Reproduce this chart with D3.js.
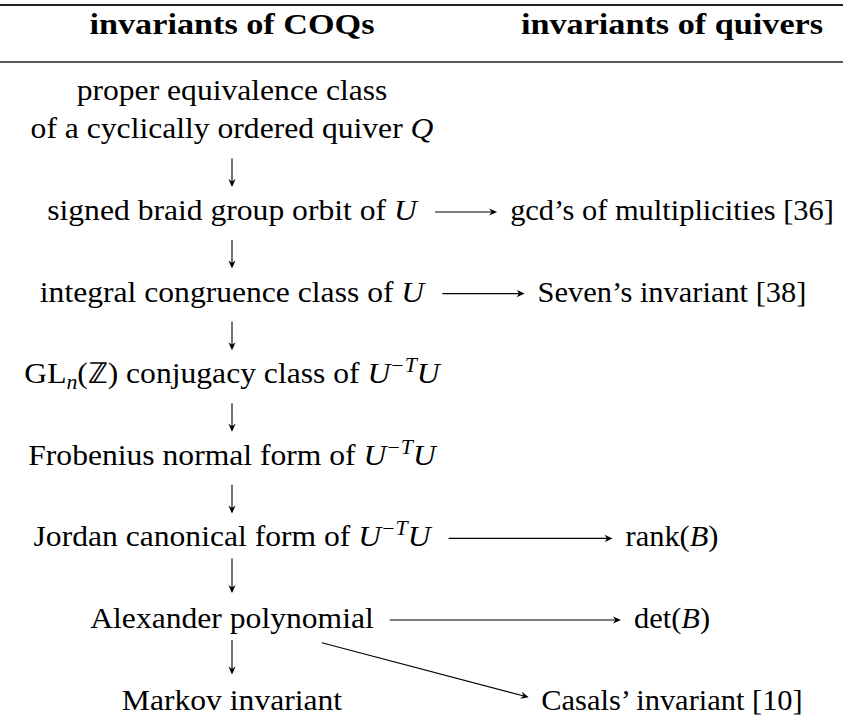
<!DOCTYPE html>
<html>
<head>
<meta charset="utf-8">
<script src="https://cdn.jsdelivr.net/npm/d3@7"></script>
<style>
  body { margin: 0; background: #fff; }
  text { font-family: "Liberation Serif", "Times New Roman", serif; fill: #000; }
</style>
</head>
<body>
<div id="chart"></div>
<script>
// Labels of the two columns ($...$ is math, | breaks a line)
var headers = ["invariants of COQs", "invariants of quivers"];
var coqLabels = [
  "proper equivalence class|of a cyclically ordered quiver $Q$",
  "signed braid group orbit of $U$",
  "integral congruence class of $U$",
  "GL$_n$(ℤ) conjugacy class of $U^{−T}U$",
  "Frobenius normal form of $U^{−T}U$",
  "Jordan canonical form of $U^{−T}U$",
  "Alexander polynomial",
  "Markov invariant"
];
var quiverLabels = ["", "gcd’s of multiplicities [36]", "Seven’s invariant [38]", "", "",
  "rank($B$)", "det($B$)", "Casals’ invariant [10]"];
// arrows: row -> same row in right column, and slanted ones [from row, to row]
var acrossRows = [1, 2, 5, 6];
var slantRows = [[6, 7]];

var svgWidth = 843;
var svgHeight = 724;
var fontSize = 29;
var stretch = {coq: 1.09, quiver: 1.05};

var svg = d3.select("#chart")
  .append("svg")
  .attr("width", svgWidth)
  .attr("height", svgHeight);

var x = d3.scalePoint().domain(["coq", "quiver"]).range([232, 672]);
var y = d3.scaleLinear().domain([1, 6]).range([220, 628]);

// tiny parser for the $...$ bits
function parse(str) {
  var segs = [];
  str.split("$").forEach(function(part, k) {
    if (k % 2 === 0) {
      if (part) segs.push({t: part, it: false, pos: 0});
      return;
    }
    var i = 0;
    while (i < part.length) {
      var c = part[i];
      if (c === "^" || c === "_") {
        var pos = c === "^" ? 1 : -1;
        i++;
        var grp;
        if (part[i] === "{") {
          var j = part.indexOf("}", i);
          grp = part.slice(i + 1, j);
          i = j + 1;
        } else {
          grp = part[i];
          i++;
        }
        Array.from(grp).forEach(function(ch) {
          segs.push({t: ch, it: /[A-Za-z]/.test(ch), pos: pos});
        });
      } else {
        segs.push({t: c, it: /[A-Za-z]/.test(c), pos: 0});
        i++;
      }
    }
  });
  var out = [];
  segs.forEach(function(s) {
    var last = out[out.length - 1];
    if (last && last.it === s.it && last.pos === s.pos) last.t += s.t;
    else out.push({t: s.t, it: s.it, pos: s.pos});
  });
  return out;
}

function writeLine(g, str, dy) {
  var text = g.append("text")
    .attr("y", dy)
    .attr("text-anchor", "middle")
    .style("font-size", fontSize + "px");
  var cur = 0;
  parse(str).forEach(function(s) {
    var shift = s.pos === 1 ? -11 : s.pos === -1 ? 6 : 0;
    text.append("tspan")
      .attr("dy", shift - cur)
      .attr("dx", s.pos === 1 ? 1 : 0)
      .style("font-style", s.it ? "italic" : "normal")
      .style("font-size", s.pos ? "20px" : null)
      .text(s.t);
    cur = shift;
  });
}

// draw a node, return its box
function drawNode(col, row, label) {
  var cx = x(col), base = y(row);
  var outer = svg.append("g").attr("transform", `translate(${cx}, ${base})`);
  var inner = outer.append("g").attr("transform", `scale(${stretch[col]}, 1)`);
  var lines = label.split("|");
  lines.forEach(function(l, k) {
    writeLine(inner, l, (k - lines.length + 1) * 38);
  });
  var bb = outer.node().getBBox();
  return {x0: cx + bb.x, x1: cx + bb.x + bb.width, y0: base + bb.y, y1: base + bb.y + bb.height,
          cx: cx, cy: base - 9, base: base};
}

// rules
svg.append("line")
  .attr("x1", 0).attr("x2", svgWidth).attr("y1", 5).attr("y2", 5)
  .attr("stroke", "#222").attr("stroke-width", 2);
svg.append("line")
  .attr("x1", 0).attr("x2", svgWidth).attr("y1", 62).attr("y2", 62)
  .attr("stroke", "#222").attr("stroke-width", 1.4);

// headers
headers.forEach(function(h, i) {
  svg.append("g")
    .attr("transform", `translate(${x(x.domain()[i])}, 34) scale(1.18, 1)`)
    .append("text")
    .attr("text-anchor", "middle")
    .style("font-size", fontSize + "px")
    .style("font-weight", "bold")
    .text(h);
});

var coqBoxes = coqLabels.map(function(l, i) { return drawNode("coq", i, l); });
var quiverBoxes = quiverLabels.map(function(l, i) { return l ? drawNode("quiver", i, l) : null; });

var arrows = svg.append("g");

function arrow(x1, y1, x2, y2) {
  var a = Math.atan2(y2 - y1, x2 - x1);
  arrows.append("line")
    .attr("x1", x1).attr("y1", y1)
    .attr("x2", x2 - 4 * Math.cos(a)).attr("y2", y2 - 4 * Math.sin(a))
    .attr("stroke", "#000").attr("stroke-width", 1.1);
  arrows.append("path")
    .attr("d", "M0,0 L-8,-3.6 L-5.5,0 L-8,3.6 Z")
    .attr("transform", `translate(${x2}, ${y2}) rotate(${a * 180 / Math.PI})`)
    .attr("fill", "#000");
}

// down arrows in the left column
d3.pairs(d3.range(coqLabels.length)).forEach(function(p) {
  var top = p[0] < 5 ? 20 : 12;
  var bottom = p[0] < 5 ? 33 : 35;
  arrow(x("coq"), y(p[0]) + top, x("coq"), y(p[1]) - bottom);
});

// across arrows
acrossRows.forEach(function(r) {
  var a = coqBoxes[r], b = quiverBoxes[r];
  var yy = y(r) - 8;
  arrow(a.x1 + 16, yy, b.x0 - 13, yy);
});

// slanted arrows: from the node centre toward the west side of the target
function exitPoint(box, from, to, pad) {
  var dx = to[0] - from[0], dy = to[1] - from[1];
  var tx = dx > 0 ? (box.x1 + pad - from[0]) / dx : (box.x0 - pad - from[0]) / dx;
  var ty = dy > 0 ? (box.y1 + pad - from[1]) / dy : (box.y0 - pad - from[1]) / dy;
  var t = Math.min(tx, ty);
  return [from[0] + t * dx, from[1] + t * dy];
}
slantRows.forEach(function(s) {
  var a = coqBoxes[s[0]], b = quiverBoxes[s[1]];
  var pa = [a.cx, a.cy], pb = [b.x0, b.cy];
  var start = exitPoint(a, pa, pb, 8);
  var len = Math.hypot(pb[0] - start[0], pb[1] - start[1]);
  var k = (len - 13) / len;
  arrow(start[0], start[1], start[0] + k * (pb[0] - start[0]), start[1] + k * (pb[1] - start[1]));
});
</script>
</body>
</html>
